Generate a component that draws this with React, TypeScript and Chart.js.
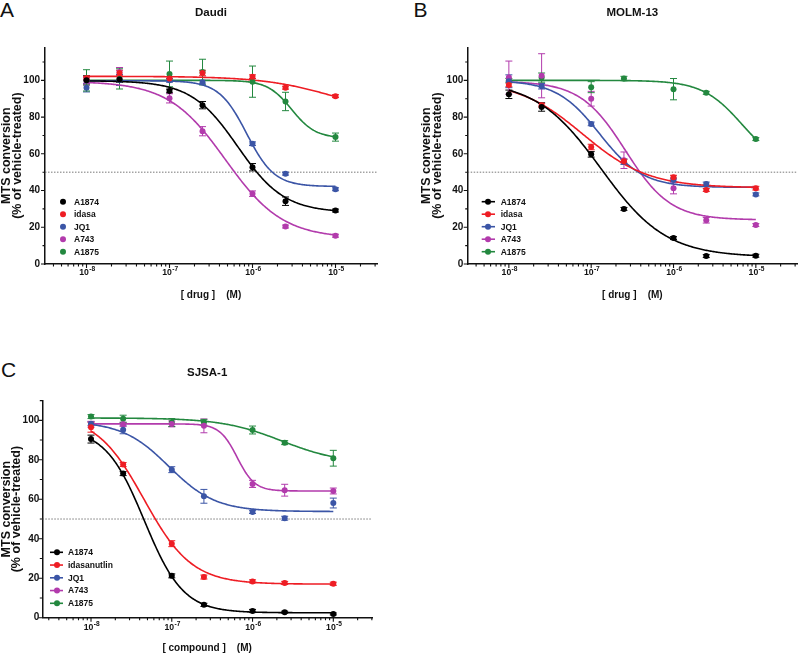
import React, { useEffect, useRef } from "react";
import { Chart, registerables } from "chart.js";

Chart.register(...registerables);

const FONT = '"Liberation Sans", Arial, Helvetica, sans-serif';
const INK = "#111111";

// ---------- shared axes ----------
const CONCENTRATIONS_M = [1e-8, 2.5e-8, 1e-7, 2.5e-7, 1e-6, 2.5e-6, 1e-5];
const X_DECADE_EXPONENTS = [-8, -7, -6, -5];
const Y_TICK_VALUES = [0, 20, 40, 60, 80, 100];
const SERIES_COLORS = ["#000000", "#ee1d24", "#3b55a6", "#b23bac", "#23883f"];
const REFERENCE_LEVEL = 50;

// ---------- A: Daudi ----------
const DAUDI_NAMES = ["A1874", "idasa", "JQ1", "A743", "A1875"];
const DAUDI_A1874 = [100, 100.5, 94.2, 86.5, 52.7, 34.2, 29.1];
const DAUDI_IDASA = [101.2, 104, 101, 104, 102, 96, 91.4];
const DAUDI_JQ1 = [96, 100.2, 100, 99, 65.5, 49.2, 40.7];
const DAUDI_A743 = [100, 104.5, 90.2, 72.3, 38.3, 20.4, 15.4];
const DAUDI_A1875 = [100, 100.8, 103.5, 104.5, 99.3, 88.5, 69.1];
const DAUDI_A1874_ERR = [2.5, 1.5, 1, 2, 2, 2.3, 0.8];
const DAUDI_IDASA_ERR = [1, 1.5, 1, 1.5, 1, 0.8, 0.8];
const DAUDI_JQ1_ERR = [2.3, 3, 1, 1, 1, 0.8, 0.8];
const DAUDI_A743_ERR = [1.5, 2.5, 2.5, 2.5, 1.5, 0.8, 0.8];
const DAUDI_A1875_ERR = [5.8, 5.5, 7, 7, 8.5, 5, 2.2];
const DAUDI_FIT_TOP = [99.8, 102.2, 99.8, 99.5, 100];
const DAUDI_FIT_BOTTOM = [28, 80, 42.2, 14, 68.5];
const DAUDI_FIT_LOGIC50 = [-6.177, -5.0, -6.07, -6.325, -5.53];
const DAUDI_FIT_HILL = [1.55, 1, 2.6, 1.26, 3];

// ---------- B: MOLM-13 ----------
const MOLM_NAMES = ["A1874", "idasa", "JQ1", "A743", "A1875"];
const MOLM_A1874 = [92.4, 85.5, 59.7, 30, 14.1, 4.3, 4.5];
const MOLM_IDASA = [97.5, 86.5, 63.7, 56, 47.3, 40.3, 41.3];
const MOLM_JQ1 = [99.5, 96.8, 76.3, 55.7, 45.8, 43.6, 37.9];
const MOLM_A743 = [101.5, 102.5, 90, 56.5, 41.2, 23.8, 21.2];
const MOLM_A1875 = [100, 101.5, 96.3, 101, 95.2, 93.2, 68];
const MOLM_A1874_ERR = [2.3, 2.3, 1.5, 0.8, 0.8, 0.8, 0.8];
const MOLM_IDASA_ERR = [1, 1, 1.5, 1, 1, 0.8, 1];
const MOLM_JQ1_ERR = [3.5, 1.5, 1, 1.5, 1, 1, 0.8];
const MOLM_A743_ERR = [9, 12, 4, 4.5, 3, 1.5, 0.8];
const MOLM_A1875_ERR = [1, 2.5, 3, 1.2, 5.8, 0.8, 0.8];
const MOLM_FIT_TOP = [100, 100, 100, 99.5, 100];
const MOLM_FIT_BOTTOM = [3.8, 41.5, 41.7, 24, 52];
const MOLM_FIT_LOGIC50 = [-6.88, -7.103, -6.897, -6.583, -5.167];
const MOLM_FIT_HILL = [1.1, 1.09, 1.656, 1.588, 1.8];

// ---------- C: SJSA-1 ----------
const SJSA_NAMES = ["A1874", "idasanutlin", "JQ1", "A743", "A1875"];
const SJSA_A1874 = [90.5, 73, 21.2, 6.5, 3.4, 2.8, 1.9];
const SJSA_IDASANUTLIN = [96.5, 77.6, 37.5, 20.6, 18.4, 17.6, 17.2];
const SJSA_JQ1 = [98.3, 95.2, 75, 61.5, 53.6, 50.4, 58.1];
const SJSA_A743 = [98, 98, 98.2, 97.2, 67.8, 64.6, 64.2];
const SJSA_A1875 = [101.9, 100.8, 98.9, 99, 95.1, 88.7, 80.8];
const SJSA_A1874_ERR = [2, 1, 1, 0.8, 0.8, 0.5, 0.5];
const SJSA_IDASANUTLIN_ERR = [2.5, 1, 1.5, 1, 0.8, 0.8, 0.8];
const SJSA_JQ1_ERR = [1, 2, 1.5, 3.5, 0.8, 1, 2.5];
const SJSA_A743_ERR = [1.5, 1, 1.5, 3.5, 1.8, 3, 1.5];
const SJSA_A1875_ERR = [1, 1.8, 2, 1.5, 2, 1, 4];
const SJSA_FIT_TOP = [96, 103, 99.5, 98.2, 101.2];
const SJSA_FIT_BOTTOM = [2.5, 17, 53.8, 64.2, 78];
const SJSA_FIT_LOGIC50 = [-7.34, -7.344, -7.036, -6.19, -5.64];
const SJSA_FIT_HILL = [1.8, 1.466, 1.5, 4, 1.171];

function logistic(logx: number, top: number, bottom: number, logIC50: number, hill: number) {
  return bottom + (top - bottom) / (1 + Math.pow(10, hill * (logx - logIC50)));
}

function fittedCurve(top: number, bottom: number, logIC50: number, hill: number) {
  const lo = Math.log10(CONCENTRATIONS_M[0]);
  const hi = Math.log10(CONCENTRATIONS_M[CONCENTRATIONS_M.length - 1]);
  const steps = 240;
  const pts: { x: number; y: number }[] = [];
  for (let i = 0; i <= steps; i++) {
    const lx = lo + ((hi - lo) * i) / steps;
    pts.push({ x: Math.pow(10, lx), y: logistic(lx, top, bottom, logIC50, hill) });
  }
  return pts;
}

type LegendLayout = {
  lineFrom: number | null;
  lineTo: number | null;
  dotX: number;
  textX: number;
  firstFromBottom: number;
  step: number;
};

type PanelProps = {
  left: number;
  top: number;
  width: number;
  height: number;
  title: string;
  titlePadTop: number;
  titlePadBottom: number;
  padRight: number;
  yAxisWidth: number;
  xAxisHeight: number;
  yMax: number;
  xLogMin: number;
  xLogMax: number;
  yTitlePad: number;
  yTickPad: number;
  xLabelBaseline: number;
  xTitle: string;
  xTitlePadBottom: number;
  names: string[];
  means: number[][];
  errors: number[][];
  fitTop: number[];
  fitBottom: number[];
  fitLogIC50: number[];
  fitHill: number[];
  legend: LegendLayout;
};

function DoseResponsePanel(p: PanelProps) {
  const ref = useRef<HTMLCanvasElement | null>(null);

  useEffect(() => {
    const canvas = ref.current;
    if (!canvas) return;

    const pointSets = p.names.map((name, i) => ({
      label: name,
      data: CONCENTRATIONS_M.map((c, j) => ({ x: c, y: p.means[i][j] })),
      errorBars: p.errors[i],
      isPoints: true,
      showLine: false,
      pointRadius: 3,
      pointHoverRadius: 3,
      pointBorderWidth: 0,
      backgroundColor: SERIES_COLORS[i],
      borderColor: SERIES_COLORS[i],
      order: 0,
    }));
    const curveSets = p.names.map((name, i) => ({
      label: name + " fit",
      data: fittedCurve(p.fitTop[i], p.fitBottom[i], p.fitLogIC50[i], p.fitHill[i]),
      showLine: true,
      pointRadius: 0,
      pointHoverRadius: 0,
      borderWidth: 1.6,
      borderColor: SERIES_COLORS[i],
      backgroundColor: SERIES_COLORS[i],
      tension: 0,
      fill: false,
      order: 1,
    }));

    const refLinePlugin = {
      id: "refLine",
      beforeDatasetsDraw(chart: any) {
        const { ctx, chartArea, scales } = chart;
        const py = scales.y.getPixelForValue(REFERENCE_LEVEL);
        ctx.save();
        ctx.strokeStyle = "#555555";
        ctx.lineWidth = 0.8;
        ctx.setLineDash([1.5, 1.5]);
        ctx.beginPath();
        ctx.moveTo(chartArea.left, py);
        ctx.lineTo(chartArea.right, py);
        ctx.stroke();
        ctx.restore();
      },
    };

    const errorBarPlugin = {
      id: "errorBars",
      beforeDatasetsDraw(chart: any) {
        const { ctx, scales } = chart;
        ctx.save();
        ctx.lineWidth = 1;
        chart.data.datasets.forEach((ds: any) => {
          if (!ds.errorBars) return;
          ctx.strokeStyle = ds.borderColor;
          ds.data.forEach((pt: any, j: number) => {
            const err = ds.errorBars[j];
            if (!err) return;
            const px = scales.x.getPixelForValue(pt.x);
            const yt = scales.y.getPixelForValue(pt.y + err);
            const yb = scales.y.getPixelForValue(pt.y - err);
            ctx.beginPath();
            ctx.moveTo(px, yt);
            ctx.lineTo(px, yb);
            ctx.moveTo(px - 3.5, yt);
            ctx.lineTo(px + 3.5, yt);
            ctx.moveTo(px - 3.5, yb);
            ctx.lineTo(px + 3.5, yb);
            ctx.stroke();
          });
        });
        ctx.restore();
      },
    };

    const axisTicksPlugin = {
      id: "axisTicks",
      afterDraw(chart: any) {
        const { ctx, chartArea: ca, scales } = chart;
        const x = scales.x;
        const y = scales.y;
        ctx.save();
        ctx.strokeStyle = INK;
        ctx.lineWidth = 1.1;
        ctx.beginPath();
        const lo = Math.log10(x.min);
        const hi = Math.log10(x.max);
        for (let e = Math.floor(lo); e <= Math.ceil(hi); e++) {
          for (let k = 1; k <= 9; k++) {
            const v = k * Math.pow(10, e);
            if (v < x.min * 0.9999 || v > x.max * 1.0001) continue;
            const px = x.getPixelForValue(v);
            const len = k === 1 ? 4 : 2.5;
            ctx.moveTo(px, ca.bottom);
            ctx.lineTo(px, ca.bottom + len);
          }
        }
        for (let v = 0; v <= y.max; v += 10) {
          const py = y.getPixelForValue(v);
          const len = v % 20 === 0 ? 4 : 2.5;
          ctx.moveTo(ca.left - len, py);
          ctx.lineTo(ca.left, py);
        }
        ctx.stroke();

        // decade labels: "10" with a raised exponent
        ctx.fillStyle = INK;
        ctx.textBaseline = "alphabetic";
        ctx.textAlign = "left";
        const baseFont = `bold 8.7px ${FONT}`;
        const expFont = `bold 6.6px ${FONT}`;
        x.ticks.forEach((t: any) => {
          const e = Math.round(Math.log10(t.value));
          const base = "10";
          const exp = String(e).replace("-", "\u2013").replace("\u2013", "-");
          ctx.font = baseFont;
          const wb = ctx.measureText(base).width;
          ctx.font = expFont;
          const we = ctx.measureText(exp).width;
          const px = x.getPixelForValue(t.value);
          const startX = px - (wb + we) / 2 + 0.5;
          const by = ca.bottom + p.xLabelBaseline;
          ctx.font = baseFont;
          ctx.fillText(base, startX, by);
          ctx.font = expFont;
          ctx.fillText(exp, startX + wb + 0.3, by - 3.8);
        });
        ctx.restore();
      },
    };

    const legendPlugin = {
      id: "insideLegend",
      afterDatasetsDraw(chart: any) {
        const { ctx, chartArea: ca } = chart;
        const L = p.legend;
        ctx.save();
        ctx.font = `bold 8.5px ${FONT}`;
        ctx.textBaseline = "middle";
        ctx.textAlign = "left";
        chart.data.datasets
          .filter((ds: any) => ds.isPoints)
          .forEach((ds: any, i: number) => {
            const yy = ca.bottom - L.firstFromBottom + i * L.step;
            if (L.lineFrom !== null && L.lineTo !== null) {
              ctx.strokeStyle = ds.borderColor;
              ctx.lineWidth = 1.6;
              ctx.beginPath();
              ctx.moveTo(ca.left + L.lineFrom, yy);
              ctx.lineTo(ca.left + L.lineTo, yy);
              ctx.stroke();
            }
            ctx.fillStyle = ds.backgroundColor;
            ctx.beginPath();
            ctx.arc(ca.left + L.dotX, yy, 3, 0, Math.PI * 2);
            ctx.fill();
            ctx.fillStyle = INK;
            ctx.fillText(ds.label, ca.left + L.textX, yy + 0.5);
          });
        ctx.restore();
      },
    };

    const chart = new Chart(canvas, {
      type: "scatter",
      data: { datasets: [...pointSets, ...curveSets] as any },
      options: {
        responsive: false,
        animation: false,
        events: [],
        layout: { padding: { top: 0, right: p.padRight, bottom: 0, left: 0 } },
        plugins: {
          legend: { display: false },
          tooltip: { enabled: false },
          title: {
            display: true,
            text: p.title,
            color: INK,
            fullSize: false,
            font: { family: FONT, size: 11.5, weight: "bold", lineHeight: 1.2 },
            padding: { top: p.titlePadTop, bottom: p.titlePadBottom },
          },
        },
        scales: {
          x: {
            type: "logarithmic",
            min: Math.pow(10, p.xLogMin),
            max: Math.pow(10, p.xLogMax),
            afterBuildTicks: (scale: any) => {
              scale.ticks = X_DECADE_EXPONENTS.map((e) => ({ value: Math.pow(10, e) }));
            },
            afterFit: (scale: any) => {
              scale.height = p.xAxisHeight;
            },
            ticks: { display: false, autoSkip: false, maxRotation: 0, minRotation: 0 },
            grid: { display: false, drawTicks: false },
            border: { display: true, color: INK, width: 1.5 },
            title: {
              display: true,
              text: p.xTitle,
              color: INK,
              font: { family: FONT, size: 10, weight: "bold", lineHeight: 1.2 },
              padding: { top: 0, bottom: p.xTitlePadBottom },
            },
          },
          y: {
            type: "linear",
            min: 0,
            max: p.yMax,
            afterBuildTicks: (scale: any) => {
              scale.ticks = Y_TICK_VALUES.map((v) => ({ value: v }));
            },
            afterFit: (scale: any) => {
              scale.width = p.yAxisWidth;
            },
            ticks: {
              padding: p.yTickPad,
              color: INK,
              font: { family: FONT, size: 10, weight: "bold" },
            },
            grid: { display: false, drawTicks: false },
            border: { display: true, color: INK, width: 1.5 },
            title: {
              display: true,
              text: ["MTS conversion", "(% of vehicle-treated)"],
              color: INK,
              font: { family: FONT, size: 12.5, weight: "bold", lineHeight: 0.86 },
              padding: { top: p.yTitlePad, bottom: 0 },
            },
          },
        },
      } as any,
      plugins: [refLinePlugin, errorBarPlugin, axisTicksPlugin, legendPlugin],
    });

    return () => chart.destroy();
  }, []);

  return (
    <canvas
      ref={ref}
      width={p.width}
      height={p.height}
      style={{ position: "absolute", left: p.left, top: p.top, width: p.width, height: p.height }}
    />
  );
}

const letterStyle: React.CSSProperties = {
  position: "absolute",
  fontFamily: FONT,
  fontSize: 21,
  lineHeight: "21px",
  color: INK,
  fontWeight: "normal",
};

export default function App() {
  return (
    <div
      style={{
        position: "fixed",
        left: 0,
        top: 0,
        width: 800,
        height: 654,
        background: "#ffffff",
        overflow: "hidden",
      }}
    >
      <div style={{ ...letterStyle, left: 0, top: -1 }}>A</div>
      <div style={{ ...letterStyle, left: 413.5, top: -1 }}>B</div>
      <div style={{ ...letterStyle, left: 1, top: 359.3 }}>C</div>

      <DoseResponsePanel
        left={0}
        top={0}
        width={400}
        height={320}
        title="Daudi"
        titlePadTop={6}
        titlePadBottom={27.5}
        padRight={23}
        yAxisWidth={45}
        xAxisHeight={56}
        yMax={118}
        xLogMin={-8.5}
        xLogMax={-4.5}
        yTitlePad={1.5}
        yTickPad={5}
        xLabelBaseline={10.8}
        xTitle="[ drug ]    (M)"
        xTitlePadBottom={19}
        names={DAUDI_NAMES}
        means={[DAUDI_A1874, DAUDI_IDASA, DAUDI_JQ1, DAUDI_A743, DAUDI_A1875]}
        errors={[DAUDI_A1874_ERR, DAUDI_IDASA_ERR, DAUDI_JQ1_ERR, DAUDI_A743_ERR, DAUDI_A1875_ERR]}
        fitTop={DAUDI_FIT_TOP}
        fitBottom={DAUDI_FIT_BOTTOM}
        fitLogIC50={DAUDI_FIT_LOGIC50}
        fitHill={DAUDI_FIT_HILL}
        legend={{ lineFrom: null, lineTo: null, dotX: 18, textX: 29, firstFromBottom: 62.3, step: 12.5 }}
      />

      <DoseResponsePanel
        left={400}
        top={0}
        width={400}
        height={320}
        title="MOLM-13"
        titlePadTop={6}
        titlePadBottom={27.5}
        padRight={0.5}
        yAxisWidth={67.7}
        xAxisHeight={56}
        yMax={118}
        xLogMin={-8.5}
        xLogMax={-4.5}
        yTitlePad={21.5}
        yTickPad={4.4}
        xLabelBaseline={10.8}
        xTitle="[ drug ]    (M)"
        xTitlePadBottom={19}
        names={MOLM_NAMES}
        means={[MOLM_A1874, MOLM_IDASA, MOLM_JQ1, MOLM_A743, MOLM_A1875]}
        errors={[MOLM_A1874_ERR, MOLM_IDASA_ERR, MOLM_JQ1_ERR, MOLM_A743_ERR, MOLM_A1875_ERR]}
        fitTop={MOLM_FIT_TOP}
        fitBottom={MOLM_FIT_BOTTOM}
        fitLogIC50={MOLM_FIT_LOGIC50}
        fitHill={MOLM_FIT_HILL}
        legend={{ lineFrom: 14, lineTo: 27.3, dotX: 20.3, textX: 33, firstFromBottom: 62.3, step: 12.5 }}
      />

      <DoseResponsePanel
        left={0}
        top={320}
        width={400}
        height={334}
        title="SJSA-1"
        titlePadTop={46}
        titlePadBottom={20.8}
        padRight={28}
        yAxisWidth={42.3}
        xAxisHeight={36.3}
        yMax={110}
        xLogMin={-8.603}
        xLogMax={-4.521}
        yTitlePad={0.8}
        yTickPad={3}
        xLabelBaseline={12.2}
        xTitle="[ compound ]    (M)"
        xTitlePadBottom={0}
        names={SJSA_NAMES}
        means={[SJSA_A1874, SJSA_IDASANUTLIN, SJSA_JQ1, SJSA_A743, SJSA_A1875]}
        errors={[SJSA_A1874_ERR, SJSA_IDASANUTLIN_ERR, SJSA_JQ1_ERR, SJSA_A743_ERR, SJSA_A1875_ERR]}
        fitTop={SJSA_FIT_TOP}
        fitBottom={SJSA_FIT_BOTTOM}
        fitLogIC50={SJSA_FIT_LOGIC50}
        fitHill={SJSA_FIT_HILL}
        legend={{ lineFrom: 7.7, lineTo: 20.7, dotX: 14.7, textX: 25.7, firstFromBottom: 65.4, step: 12.75 }}
      />
    </div>
  );
}
